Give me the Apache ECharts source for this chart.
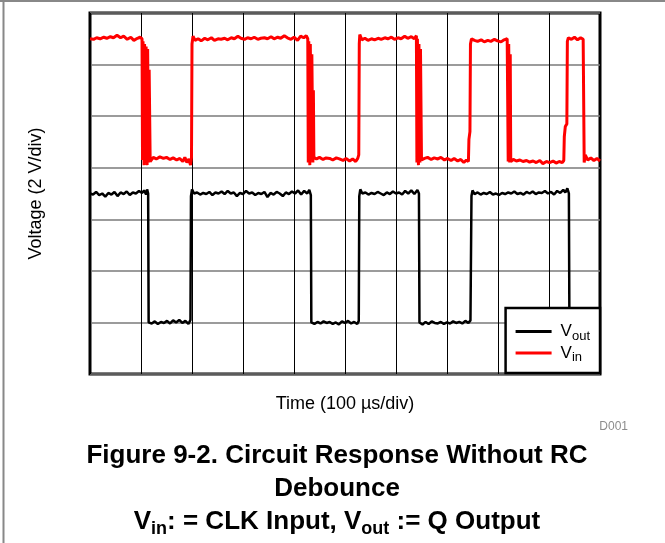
<!DOCTYPE html>
<html>
<head>
<meta charset="utf-8">
<script src="https://cdn.jsdelivr.net/npm/echarts@6/dist/echarts.min.js"></script>
<style>
html,body{margin:0;padding:0;background:#fff;}
#chart{width:665px;height:543px;}
</style>
</head>
<body>
<div id="chart"></div>
<script>
// Axis extents in divisions (time: 100 us/div, voltage: 2 V/div)
const timeDivs = [0, 10];
const voltDivs = [0, 7];
const seriesNames = ['Vout', 'Vin'];

// Vin (CLK input) trace: [time div, voltage div]
const vinData = [
  [0.00,6.50],[0.07,6.49],[0.13,6.52],[0.20,6.50],[0.27,6.53],[0.33,6.51],[0.40,6.54],[0.46,6.52],
  [0.53,6.57],[0.60,6.52],[0.66,6.55],[0.73,6.49],[0.80,6.53],[0.86,6.47],[0.93,6.51],[0.98,6.53],[1.02,6.50],
  [1.03,4.15],[1.04,6.45],[1.06,4.05],[1.07,6.40],[1.09,4.10],[1.10,6.35],[1.12,4.05],[1.13,6.30],[1.15,4.10],[1.16,5.90],[1.18,4.12],
  [1.24,4.20],[1.30,4.17],[1.37,4.21],[1.44,4.18],[1.50,4.20],[1.57,4.16],[1.63,4.19],[1.70,4.15],[1.76,4.18],
  [1.82,4.12],[1.86,4.20],[1.90,4.10],[1.94,4.17],[1.97,4.05],[1.99,4.20],
  [2.00,6.40],[2.02,6.55],[2.06,6.47],
  [2.12,6.50],[2.18,6.46],[2.25,6.51],[2.31,6.48],[2.38,6.52],[2.44,6.47],[2.51,6.50],[2.57,6.49],[2.64,6.51],
  [2.70,6.48],[2.77,6.52],[2.83,6.50],[2.90,6.55],[2.96,6.51],[3.03,6.49],[3.09,6.52],[3.16,6.50],[3.22,6.53],
  [3.29,6.49],[3.35,6.51],[3.42,6.52],[3.48,6.50],[3.55,6.54],[3.61,6.50],[3.68,6.53],[3.74,6.51],[3.81,6.56],
  [3.87,6.52],[3.94,6.49],[4.00,6.53],[4.07,6.47],[4.13,6.55],[4.19,6.52],[4.24,6.56],[4.27,6.50],
  [4.28,4.10],[4.29,6.45],[4.31,4.05],[4.32,6.40],[4.34,4.15],[4.35,6.20],[4.37,4.10],[4.38,5.50],[4.39,4.20],
  [4.44,4.17],[4.50,4.20],[4.57,4.16],[4.63,4.19],[4.70,4.18],[4.76,4.15],[4.83,4.19],[4.89,4.17],[4.96,4.14],
  [5.02,4.18],[5.09,4.13],[5.15,4.17],[5.21,4.12],[5.25,4.18],[5.27,4.25],
  [5.28,6.40],[5.29,6.58],[5.33,6.48],
  [5.39,6.51],[5.45,6.47],[5.52,6.50],[5.58,6.48],[5.65,6.51],[5.71,6.49],[5.78,6.52],[5.84,6.50],[5.91,6.53],
  [5.97,6.49],[6.04,6.52],[6.10,6.50],[6.17,6.55],[6.23,6.51],[6.30,6.54],[6.36,6.50],[6.40,6.56],
  [6.41,4.10],[6.42,6.50],[6.44,4.05],[6.45,6.40],[6.47,4.10],[6.48,6.30],[6.50,4.15],
  [6.56,4.18],[6.62,4.20],[6.69,4.16],[6.75,4.19],[6.82,4.17],[6.88,4.20],[6.95,4.15],[7.01,4.18],[7.08,4.14],
  [7.14,4.18],[7.21,4.13],[7.27,4.16],[7.33,4.10],[7.38,4.15],[7.42,4.12],
  [7.43,4.55],[7.45,4.70],[7.46,6.40],[7.48,6.50],
  [7.54,6.47],[7.60,6.45],[7.67,6.48],[7.73,6.44],[7.80,6.47],[7.86,6.45],[7.93,6.49],[7.99,6.46],[8.06,6.44],
  [8.12,6.48],[8.18,6.50],
  [8.20,4.12],[8.21,6.40],[8.23,4.10],[8.24,6.20],[8.25,4.12],
  [8.30,4.16],[8.36,4.13],[8.43,4.15],[8.49,4.12],[8.56,4.14],[8.62,4.11],[8.69,4.13],[8.75,4.10],[8.82,4.14],
  [8.88,4.08],[8.95,4.12],[9.01,4.10],[9.08,4.13],[9.14,4.09],[9.20,4.12],[9.26,4.10],[9.29,4.14],
  [9.30,4.60],[9.32,4.80],[9.35,4.85],[9.36,6.45],[9.38,6.52],
  [9.44,6.49],[9.50,6.53],[9.56,6.48],[9.62,6.52],[9.67,6.49],
  [9.69,4.10],[9.71,4.25],[9.76,4.15],[9.82,4.19],[9.88,4.14],[9.94,4.18],[10.00,4.13]
];

// Vout (Q output) trace: [time div, voltage div]
const voutData = [
  [0.00,3.50],[0.06,3.48],[0.12,3.53],[0.18,3.47],[0.24,3.50],[0.30,3.44],[0.36,3.51],[0.42,3.48],[0.48,3.53],
  [0.54,3.45],[0.60,3.52],[0.66,3.49],[0.72,3.54],[0.78,3.47],[0.84,3.52],[0.90,3.50],[0.96,3.55],[1.02,3.51],
  [1.06,3.56],[1.10,3.48],[1.12,3.58],[1.14,3.50],
  [1.15,1.00],
  [1.21,0.98],[1.27,1.02],[1.33,0.97],[1.39,1.01],[1.45,0.99],[1.51,1.03],[1.57,0.98],[1.63,1.04],[1.69,1.00],
  [1.75,1.05],[1.81,0.99],[1.87,1.03],[1.93,0.97],[1.97,1.05],
  [1.98,3.45],[2.00,3.58],[2.04,3.50],
  [2.10,3.52],[2.16,3.48],[2.22,3.51],[2.28,3.49],[2.34,3.53],[2.40,3.47],[2.46,3.52],[2.52,3.50],[2.58,3.54],
  [2.64,3.49],[2.70,3.55],[2.76,3.50],[2.82,3.52],[2.88,3.45],[2.94,3.51],[3.00,3.49],[3.06,3.55],[3.12,3.50],
  [3.18,3.52],[3.24,3.47],[3.30,3.51],[3.36,3.49],[3.42,3.53],[3.48,3.43],[3.54,3.51],[3.60,3.48],[3.66,3.53],
  [3.72,3.50],[3.78,3.45],[3.84,3.52],[3.90,3.49],[3.96,3.54],[4.02,3.50],[4.08,3.56],[4.14,3.48],[4.20,3.55],
  [4.26,3.50],[4.30,3.57],[4.33,3.47],
  [4.34,1.00],
  [4.40,0.97],[4.46,1.01],[4.52,0.98],[4.58,1.02],[4.64,0.99],[4.70,1.01],[4.76,0.97],[4.82,1.00],[4.88,0.96],
  [4.94,1.02],[5.00,0.99],[5.06,1.03],[5.12,0.98],[5.18,1.01],[5.24,0.97],[5.27,1.03],
  [5.28,3.45],[5.30,3.58],[5.34,3.50],
  [5.40,3.52],[5.46,3.48],[5.52,3.51],[5.58,3.49],[5.64,3.53],[5.70,3.50],[5.76,3.47],[5.82,3.52],[5.88,3.49],
  [5.94,3.54],[6.00,3.50],[6.06,3.52],[6.12,3.48],[6.18,3.55],[6.24,3.50],[6.30,3.56],[6.36,3.49],[6.42,3.57],[6.45,3.50],
  [6.46,1.00],
  [6.52,0.96],[6.58,1.01],[6.64,0.97],[6.70,1.02],[6.76,0.99],[6.82,0.98],[6.88,1.01],[6.94,0.97],[7.00,1.00],
  [7.06,0.98],[7.12,1.02],[7.18,0.99],[7.24,1.01],[7.30,0.98],[7.36,1.03],[7.42,0.99],[7.46,1.04],
  [7.48,3.45],[7.50,3.56],[7.54,3.49],
  [7.60,3.52],[7.66,3.48],[7.72,3.51],[7.78,3.49],[7.84,3.53],[7.90,3.48],[7.96,3.50],[8.02,3.47],[8.08,3.51],
  [8.14,3.49],[8.20,3.52],[8.26,3.50],[8.32,3.54],[8.38,3.49],[8.44,3.51],[8.50,3.48],[8.56,3.53],[8.62,3.50],
  [8.68,3.54],[8.74,3.49],[8.80,3.52],[8.86,3.51],[8.92,3.55],[8.98,3.50],[9.04,3.53],[9.10,3.48],[9.16,3.55],
  [9.22,3.51],[9.28,3.57],[9.32,3.52],[9.36,3.60],[9.39,3.50],
  [9.40,1.00],
  [9.46,0.98],[9.52,1.01],[9.60,0.99],[9.70,1.02],[9.80,0.98],[9.90,1.01],[10.00,0.99]
];

const FONT = '"Liberation Sans", Arial, Helvetica, sans-serif';
const chart = echarts.init(document.getElementById('chart'), null, {renderer: 'canvas'});

const subRich = {
  v: {fontSize: 17, lineHeight: 22, color: '#000', fontFamily: FONT},
  s: {fontSize: 13, lineHeight: 12, verticalAlign: 'bottom', color: '#000', fontFamily: FONT}
};
const titleRich = {
  v: {fontSize: 26, fontWeight: 'bold', lineHeight: 32, color: '#000', fontFamily: FONT},
  s: {fontSize: 18, fontWeight: 'bold', lineHeight: 15, verticalAlign: 'bottom', color: '#000', fontFamily: FONT}
};

chart.setOption({
  animation: false,
  backgroundColor: '#fff',
  grid: {
    left: 90, right: 65, top: 13, bottom: 169,
    show: true, borderColor: '#000', borderWidth: 3, backgroundColor: 'transparent'
  },
  xAxis: {
    type: 'value', min: timeDivs[0], max: timeDivs[1], interval: 1,
    axisLabel: {show: false}, axisTick: {show: false}, axisLine: {show: false},
    splitLine: {show: true, lineStyle: {color: '#000', width: 1}},
    name: 'Time (100 \u00B5s/div)', nameLocation: 'middle', nameGap: 21,
    nameTextStyle: {fontSize: 18, color: '#000', fontFamily: FONT}
  },
  yAxis: {
    type: 'value', min: voltDivs[0], max: voltDivs[1], interval: 1,
    axisLabel: {show: false}, axisTick: {show: false}, axisLine: {show: false},
    splitLine: {show: true, lineStyle: {color: '#7a7a7a', width: 1.5}},
    name: 'Voltage (2 V/div)', nameLocation: 'middle', nameGap: 45,
    nameTextStyle: {fontSize: 18, color: '#000', fontFamily: FONT}
  },
  legend: {
    data: seriesNames,
    orient: 'vertical',
    right: 65, bottom: 170,
    backgroundColor: '#fff', borderColor: '#000', borderWidth: 2.5,
    padding: [15, 10, 9, 10],
    icon: 'rect',
    itemWidth: 36, itemHeight: 3, itemGap: 2,
    formatter: function (name) {
      return name === 'Vout' ? '{v|V}{s|out}' : '{v|V}{s|in}';
    },
    textStyle: {color: '#000', fontFamily: FONT, fontSize: 17, padding: [0, 0, 0, 4], rich: subRich}
  },
  graphic: [
    {type: 'line', shape: {x1: 0, y1: 1, x2: 665, y2: 1}, style: {stroke: '#888', lineWidth: 2}},
    {type: 'line', shape: {x1: 3.5, y1: 0, x2: 3.5, y2: 543}, style: {stroke: '#888', lineWidth: 2}},
    {type: 'text', x: 628, y: 427, style: {text: 'D001', fontSize: 12, fill: '#8c8c8c', fontFamily: FONT, textAlign: 'right', textVerticalAlign: 'middle'}},
    {type: 'text', x: 337, y: 456, style: {text: 'Figure 9-2. Circuit Response Without RC', fontSize: 26, fontWeight: 'bold', fill: '#000', fontFamily: FONT, textAlign: 'center', textVerticalAlign: 'middle'}},
    {type: 'text', x: 337, y: 489, style: {text: 'Debounce', fontSize: 26, fontWeight: 'bold', fill: '#000', fontFamily: FONT, textAlign: 'center', textVerticalAlign: 'middle'}},
    {type: 'text', x: 337, y: 522, style: {text: '{v|V}{s|in}{v|: = CLK Input, V}{s|out}{v| := Q Output}', rich: titleRich, fill: '#000', fontFamily: FONT, textAlign: 'center', textVerticalAlign: 'middle'}}
  ],
  series: [
    {name: 'Vout', type: 'line', data: voutData, showSymbol: false, symbol: 'none',
     lineStyle: {color: '#000', width: 2.5}, itemStyle: {color: '#000'}, z: 3},
    {name: 'Vin', type: 'line', data: vinData, showSymbol: false, symbol: 'none',
     lineStyle: {color: '#ff0000', width: 3}, itemStyle: {color: '#ff0000'}, z: 3}
  ]
});
</script>
</body>
</html>
